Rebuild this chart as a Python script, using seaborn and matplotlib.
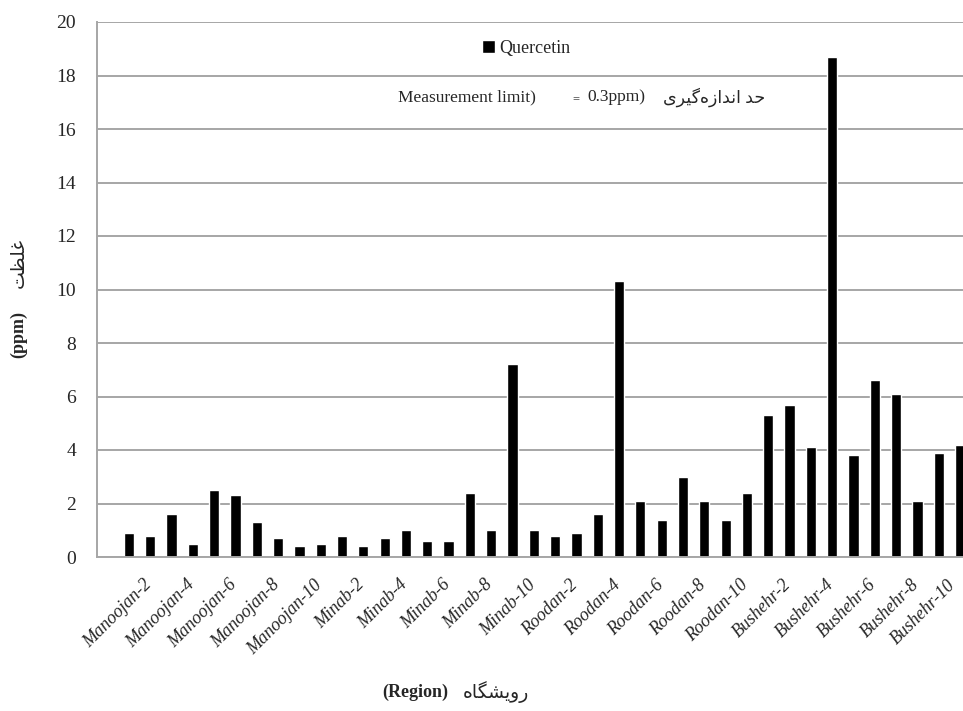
import matplotlib
matplotlib.use("Agg")
import matplotlib.pyplot as plt
import matplotlib.transforms as mtransforms
import pandas as pd
import seaborn as sns

# sample names (Manoojan-1 ... Bushehr-10)
regions = ["Manoojan", "Minab", "Roodan", "Bushehr"]
samples = [r + "-" + str(i) for r in regions for i in range(1, 11)]

# quercetin concentration, ppm
manoojan = [0.9, 0.8, 1.6, 0.5, 2.5, 2.3, 1.3, 0.7, 0.4, 0.5]
minab = [0.8, 0.4, 0.7, 1.0, 0.6, 0.6, 2.4, 1.0, 7.2, 1.0]
roodan = [0.8, 0.9, 1.6, 10.3, 2.1, 1.4, 3.0, 2.1, 1.4, 2.4]
bushehr = [5.3, 5.7, 4.1, 18.7, 3.8, 6.6, 6.1, 2.1, 3.9, 4.2]

y_ticks = list(range(0, 21, 2))

# persian words in visual (left-to-right) order, presentation forms,
# since matplotlib does no arabic shaping / bidi
fa_limit = "\uFBFC\uFEAE\uFBFF\uFB94\uFEE9\uFEAF\uFE8D\uFEAA\uFEE7\uFE8D \uFEAA\uFEA3"  # حد اندازه‌گیری
fa_conc = "\uFE96\uFEC8\uFEE0\uFECF"  # غلظت
fa_region = "\uFEE9\uFE8E\uFB95\uFEB8\uFBFE\uFEED\uFEAD"  # رویشگاه

df = pd.DataFrame({"sample": samples,
                   "quercetin": manoojan + minab + roodan + bushehr})

sns.set_style("white")
plt.rcParams["font.family"] = ["Liberation Serif", "DejaVu Sans"]
mixed = ["Liberation Serif", "DejaVu Sans"]

W, H = 963, 711
fig = plt.figure(figsize=(W / 100, H / 100), dpi=100)
ax = fig.add_axes([97 / W, 1 - 557 / H, 866 / W, 535 / H])

sns.barplot(data=df, x="sample", y="quercetin", color="black", width=0.48,
            saturation=1, label="Quercetin", ax=ax)

ax.set_xlim(-1.5, 39.14)
ax.set_ylim(0, 20)
ax.set_yticks(y_ticks)
ax.set_yticklabels([str(t) for t in y_ticks], fontsize=14)
ax.yaxis.grid(True, color="#a6a6a6", lw=1.4)
ax.set_axisbelow(True)
for side in ["top", "right"]:
    ax.spines[side].set_visible(False)
for side in ["left", "bottom"]:
    ax.spines[side].set_color("#a6a6a6")
    ax.spines[side].set_linewidth(1.4)
ax.tick_params(axis="y", length=0, pad=15)
ax.tick_params(axis="x", length=0, pad=14)

# excel shows every other category label
ax.set_xticks(range(1, 40, 2))
ax.set_xticklabels(samples[1::2], rotation=45, ha="right", va="top",
                   rotation_mode="anchor", fontstyle="italic", fontsize=13)
labels = ax.get_xticklabels()
for i, lab in enumerate(labels):
    dx = -7 if i < len(labels) - 1 else -13  # keep the last one inside the figure
    shift = mtransforms.ScaledTranslation(dx / 100, 0, fig.dpi_scale_trans)
    lab.set_transform(lab.get_transform() + shift)
ax.set_xlabel("")
ax.set_ylabel("")

ax.legend(loc="center left", bbox_to_anchor=((482 - 97) / 866, 1 - (48 - 22) / 535),
          frameon=False, handlelength=0.7, handleheight=0.7, handletextpad=0.25,
          borderaxespad=0, borderpad=0, prop={"size": 13})

# measurement limit note
fig.text(398 / W, 1 - 97 / H, "Measurement limit)", fontsize=12.5,
         ha="left", va="center")
fig.text(572 / W, 1 - 99 / H, "=", fontsize=9, ha="left", va="center")
fig.text(587 / W, 1 - 97 / H, "0.3ppm)", fontsize=12.5, ha="left", va="center")
fig.text(765 / W, 1 - 97 / H, fa_limit, family=mixed, fontsize=12.5,
         ha="right", va="center")

# axis titles
fig.text(448 / W, 1 - 692 / H, "(Region)", fontsize=13, weight="bold",
         ha="right", va="center")
fig.text(463 / W, 1 - 692 / H, fa_region, family=mixed, fontsize=13.5,
         ha="left", va="center")
fig.text(19 / W, 1 - 334 / H, "(ppm)", fontsize=13, weight="bold",
         rotation=90, ha="center", va="center")
fig.text(19 / W, 1 - 263 / H, fa_conc, family=mixed, fontsize=13.5,
         rotation=90, ha="center", va="center")

fig.savefig("out.png", dpi=100)
